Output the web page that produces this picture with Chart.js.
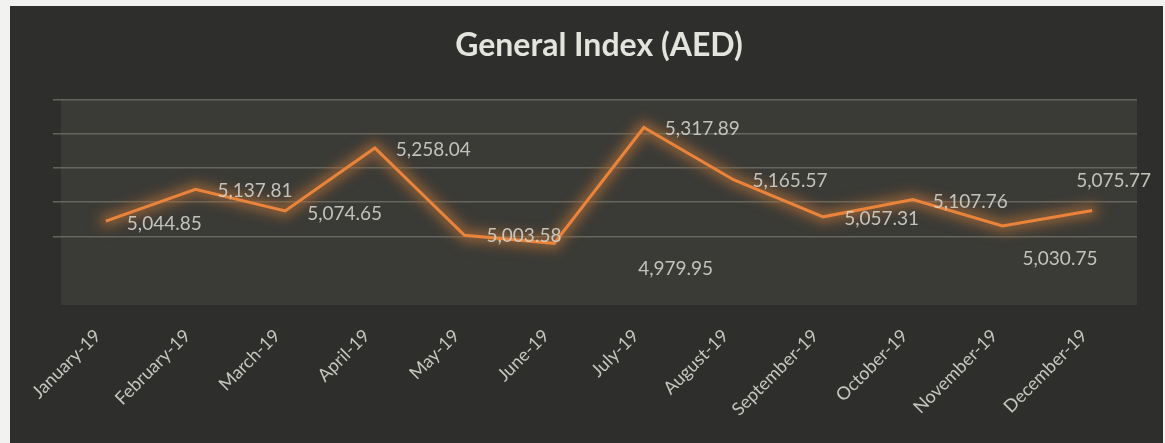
<!DOCTYPE html>
<html>
<head>
<meta charset="utf-8">
<script src="https://cdn.jsdelivr.net/npm/chart.js@4"></script>
<style>
  body { margin: 0; background: #f2f2f0; }
  #wrap { position: absolute; left: 10px; top: 6px; width: 1153px; height: 437px; background: #2e2e2c; }
</style>
</head>
<body>
<div id="wrap"><canvas id="indexChart"></canvas></div>
<script>
// General Index (AED), monthly 2019
var months = ['January-19', 'February-19', 'March-19', 'April-19', 'May-19', 'June-19',
              'July-19', 'August-19', 'September-19', 'October-19', 'November-19', 'December-19'];
var generalIndex = [5044.85, 5137.81, 5074.65, 5258.04, 5003.58, 4979.95,
                    5317.89, 5165.57, 5057.31, 5107.76, 5030.75, 5075.77];

// label placement as in the original (most sit to the right of the point)
var labelShift = [[21, 3], [22, 2], [22, 3], [21, 2], [22, 1], [84, 26],
                  [21, 1], [19, 1], [21, 2], [20, 2], [20, 33], [-16, -30]];

var plotBg = {
    id: 'plotBg',
    beforeDraw: function (chart) {
        var a = chart.chartArea, c = chart.ctx;
        c.save();
        c.fillStyle = '#3a3a36';
        c.fillRect(a.left, a.top, a.right - a.left, a.bottom - a.top);
        c.restore();
    }
};

// soft halo under the line, drawn through the same points the line uses
var glow = {
    id: 'glow',
    beforeDatasetDraw: function (chart) {
        var c = chart.ctx;
        var pts = chart.getDatasetMeta(0).data;
        c.save();
        c.filter = 'blur(6px)';
        c.strokeStyle = 'rgba(150, 100, 55, 0.5)';
        c.lineWidth = 18;
        c.lineJoin = 'round';
        c.lineCap = 'round';
        c.beginPath();
        pts.forEach(function (p, i) {
            if (i === 0) c.moveTo(p.x, p.y); else c.lineTo(p.x, p.y);
        });
        c.stroke();
        c.restore();
        c.save();
        c.shadowColor = 'rgba(220, 130, 60, 0.7)';
        c.shadowBlur = 10;
    },
    afterDatasetDraw: function (chart) {
        chart.ctx.restore();
    }
};

var valueLabels = {
    id: 'valueLabels',
    afterDatasetsDraw: function (chart) {
        var c = chart.ctx;
        var pts = chart.getDatasetMeta(0).data;
        c.save();
        c.font = '19px Lato';
        c.fillStyle = 'rgba(210, 210, 202, 0.9)';
        c.textAlign = 'left';
        c.textBaseline = 'middle';
        pts.forEach(function (p, i) {
            var txt = generalIndex[i].toLocaleString('en-US', { minimumFractionDigits: 2, maximumFractionDigits: 2 });
            c.fillText(txt, p.x + labelShift[i][0], p.y + labelShift[i][1]);
        });
        c.restore();
    }
};

new Chart(document.getElementById('indexChart'), {
    type: 'line',
    data: {
        labels: months,
        datasets: [{
            data: generalIndex,
            borderColor: '#ea843b',
            borderWidth: 3,
            pointRadius: 0,
            tension: 0,
            fill: false
        }]
    },
    options: {
        responsive: true,
        maintainAspectRatio: false,
        animation: false,
        layout: { padding: { left: 51, right: 26, top: 0, bottom: 0 } },
        plugins: {
            legend: { display: false },
            tooltip: { enabled: false },
            title: {
                display: true,
                text: 'General Index (AED)',
                color: '#e4e4de',
                font: { family: 'Lato', size: 32, weight: 'bold', lineHeight: 1.2 },
                padding: { top: 20, bottom: 35 }
            }
        },
        scales: {
            x: {
                offset: true,
                grid: { display: false },
                border: { display: false },
                ticks: {
                    color: '#c6c6be',
                    font: { family: 'Lato', size: 18 },
                    minRotation: 45,
                    maxRotation: 45,
                    padding: 12,
                    labelOffset: -8
                },
                afterFit: function (s) { s.height = 138; }
            },
            y: {
                min: 4800,
                max: 5400,
                ticks: { display: false, stepSize: 100 },
                border: { display: false },
                grid: {
                    color: function (ctx) {
                        return ctx.tick && ctx.tick.value >= 5000 ? 'rgba(118, 118, 110, 0.75)' : 'rgba(0,0,0,0)';
                    },
                    lineWidth: 1.5
                },
                afterFit: function (s) { s.width = 0; }
            }
        }
    },
    plugins: [plotBg, glow, valueLabels]
});
</script>
</body>
</html>
